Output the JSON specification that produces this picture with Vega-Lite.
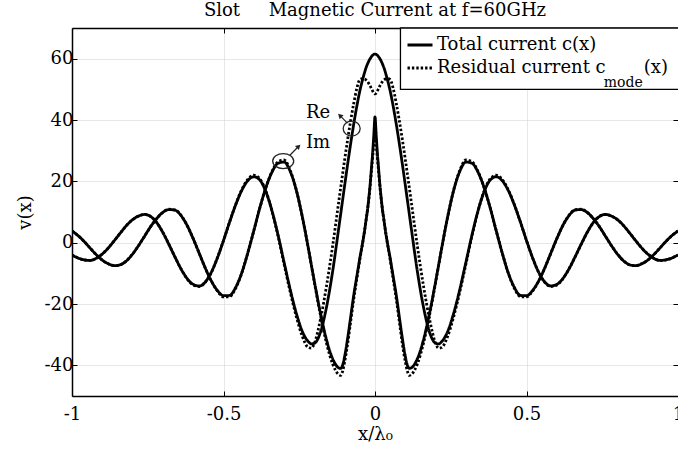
{
"$schema": "https://vega.github.io/schema/vega-lite/v6.json",
"width": 606, "height": 368,
"autosize": {"type": "none"},
"padding": {"left": 72, "top": 28, "right": 0, "bottom": 61},
"background": "white",
"data": {"values": [{}]},
"title": {"text": "Slot\u00a0\u00a0\u00a0\u00a0\u00a0Magnetic Current at f=60GHz", "font": "DejaVu Serif", "fontSize": 18, "fontWeight": "normal", "color": "black", "offset": 5, "anchor": "middle"},
"config": {"view": {"stroke": null}, "font": "DejaVu Serif"},
"resolve": {"axis": {"x": "independent", "y": "independent"}},
"layer": [
{
"data": {"values": [
{"x":-1,"Re":-4,"Im":3.8,"ReR":-4,"ImR":3.8},
{"x":-0.98,"Re":-5,"Im":2.3,"ReR":-5,"ImR":2.3},
{"x":-0.96,"Re":-5.6,"Im":0.4,"ReR":-5.6,"ImR":0.4},
{"x":-0.94,"Re":-5.8,"Im":-1.8,"ReR":-5.8,"ImR":-1.8},
{"x":-0.92,"Re":-5.1,"Im":-3.9,"ReR":-5.1,"ImR":-3.9},
{"x":-0.9,"Re":-3.7,"Im":-5.7,"ReR":-3.7,"ImR":-5.7},
{"x":-0.88,"Re":-1.7,"Im":-6.9,"ReR":-1.7,"ImR":-6.9},
{"x":-0.86,"Re":0.7,"Im":-7.5,"ReR":0.7,"ImR":-7.5},
{"x":-0.84,"Re":3.2,"Im":-7.2,"ReR":3.2,"ImR":-7.2},
{"x":-0.82,"Re":5.6,"Im":-5.9,"ReR":5.6,"ImR":-5.9},
{"x":-0.8,"Re":7.5,"Im":-3.7,"ReR":7.5,"ImR":-3.7},
{"x":-0.78,"Re":8.7,"Im":-0.9,"ReR":8.7,"ImR":-0.9},
{"x":-0.76,"Re":9.2,"Im":2.2,"ReR":9.2,"ImR":2.2},
{"x":-0.74,"Re":8.5,"Im":5.3,"ReR":8.5,"ImR":5.3},
{"x":-0.72,"Re":6.5,"Im":7.9,"ReR":6.5,"ImR":7.9},
{"x":-0.7,"Re":3.3,"Im":9.9,"ReR":3.3,"ImR":9.9},
{"x":-0.68,"Re":-0.6,"Im":10.8,"ReR":-0.6,"ImR":10.9},
{"x":-0.66,"Re":-4.7,"Im":10.6,"ReR":-4.7,"ImR":10.7},
{"x":-0.64,"Re":-8.6,"Im":8.8,"ReR":-8.6,"ImR":8.9},
{"x":-0.62,"Re":-11.7,"Im":5.6,"ReR":-11.8,"ImR":5.6},
{"x":-0.6,"Re":-13.6,"Im":1.3,"ReR":-13.8,"ImR":1.3},
{"x":-0.58,"Re":-14.1,"Im":-3.5,"ReR":-14.3,"ImR":-3.5},
{"x":-0.56,"Re":-12.8,"Im":-8.3,"ReR":-12.9,"ImR":-8.3},
{"x":-0.54,"Re":-9.6,"Im":-12.5,"ReR":-9.7,"ImR":-12.6},
{"x":-0.52,"Re":-4.9,"Im":-15.6,"ReR":-4.9,"ImR":-15.8},
{"x":-0.5,"Re":0.7,"Im":-17.3,"ReR":0.7,"ImR":-17.7},
{"x":-0.48,"Re":6.7,"Im":-17.2,"ReR":6.7,"ImR":-17.6},
{"x":-0.46,"Re":12.3,"Im":-14.6,"ReR":12.4,"ImR":-14.9},
{"x":-0.44,"Re":17,"Im":-9.9,"ReR":17.2,"ImR":-10},
{"x":-0.42,"Re":20.2,"Im":-3.4,"ReR":20.6,"ImR":-3.4},
{"x":-0.4,"Re":21.5,"Im":3.9,"ReR":22,"ImR":3.9},
{"x":-0.38,"Re":20.4,"Im":11.4,"ReR":20.8,"ImR":11.4},
{"x":-0.36,"Re":16.6,"Im":18,"ReR":16.8,"ImR":18},
{"x":-0.34,"Re":10.4,"Im":23,"ReR":10.3,"ImR":23.2},
{"x":-0.32,"Re":2.5,"Im":25.9,"ReR":2.2,"ImR":26.4},
{"x":-0.3,"Re":-6.4,"Im":26.3,"ReR":-7,"ImR":27},
{"x":-0.28,"Re":-15.2,"Im":23.3,"ReR":-16,"ImR":23.6},
{"x":-0.26,"Re":-22.9,"Im":17.2,"ReR":-24,"ImR":17.3},
{"x":-0.24,"Re":-28.9,"Im":8.5,"ReR":-30.5,"ImR":8.5},
{"x":-0.22,"Re":-32.3,"Im":-1.8,"ReR":-34.2,"ImR":-1.9},
{"x":-0.21,"Re":-33,"Im":-7.3,"ReR":-34.4,"ImR":-7.4},
{"x":-0.2,"Re":-32.8,"Im":-12.7,"ReR":-32.8,"ImR":-13},
{"x":-0.18,"Re":-29.2,"Im":-23,"ReR":-25,"ImR":-23.6},
{"x":-0.16,"Re":-21,"Im":-31.7,"ReR":-14.1,"ImR":-32.8},
{"x":-0.14,"Re":-9.5,"Im":-37.8,"ReR":-1.2,"ImR":-39.5},
{"x":-0.12,"Re":4.5,"Im":-40.8,"ReR":13.1,"ImR":-43},
{"x":-0.113,"Re":9.5,"Im":-41,"ReR":18.1,"ImR":-43.3},
{"x":-0.107,"Re":13.8,"Im":-40,"ReR":22.3,"ImR":-42},
{"x":-0.1,"Re":18.8,"Im":-37,"ReR":27.2,"ImR":-38.8},
{"x":-0.09,"Re":25.8,"Im":-31,"ReR":33.8,"ImR":-32.8},
{"x":-0.08,"Re":32.5,"Im":-24,"ReR":40,"ImR":-25.5},
{"x":-0.07,"Re":38.8,"Im":-17,"ReR":45.5,"ImR":-18.3},
{"x":-0.06,"Re":44.5,"Im":-11,"ReR":50.3,"ImR":-11.8},
{"x":-0.05,"Re":49.5,"Im":-5,"ReR":53.2,"ImR":-5.5},
{"x":-0.04,"Re":53.5,"Im":0.5,"ReR":53.5,"ImR":0.3},
{"x":-0.035,"Re":55.3,"Im":3.5,"ReR":53.4,"ImR":3.5},
{"x":-0.03,"Re":56.9,"Im":7,"ReR":53.1,"ImR":7},
{"x":-0.025,"Re":58.2,"Im":10.5,"ReR":52.6,"ImR":10.5},
{"x":-0.02,"Re":59.3,"Im":15,"ReR":51.8,"ImR":14.5},
{"x":-0.016,"Re":60,"Im":19,"ReR":51.1,"ImR":18.5},
{"x":-0.012,"Re":60.6,"Im":24,"ReR":50.3,"ImR":23},
{"x":-0.008,"Re":61.1,"Im":29,"ReR":49.5,"ImR":27.5},
{"x":-0.004,"Re":61.4,"Im":35,"ReR":48.8,"ImR":32},
{"x":0,"Re":61.5,"Im":41,"ReR":48.5,"ImR":36},
{"x":0.004,"Re":61.4,"Im":35,"ReR":48.8,"ImR":32},
{"x":0.008,"Re":61.1,"Im":29,"ReR":49.5,"ImR":27.5},
{"x":0.012,"Re":60.6,"Im":24,"ReR":50.3,"ImR":23},
{"x":0.016,"Re":60,"Im":19,"ReR":51.1,"ImR":18.5},
{"x":0.02,"Re":59.3,"Im":15,"ReR":51.8,"ImR":14.5},
{"x":0.025,"Re":58.2,"Im":10.5,"ReR":52.6,"ImR":10.5},
{"x":0.03,"Re":56.9,"Im":7,"ReR":53.1,"ImR":7},
{"x":0.035,"Re":55.3,"Im":3.5,"ReR":53.4,"ImR":3.5},
{"x":0.04,"Re":53.5,"Im":0.5,"ReR":53.5,"ImR":0.3},
{"x":0.05,"Re":49.5,"Im":-5,"ReR":53.2,"ImR":-5.5},
{"x":0.06,"Re":44.5,"Im":-11,"ReR":50.3,"ImR":-11.8},
{"x":0.07,"Re":38.8,"Im":-17,"ReR":45.5,"ImR":-18.3},
{"x":0.08,"Re":32.5,"Im":-24,"ReR":40,"ImR":-25.5},
{"x":0.09,"Re":25.8,"Im":-31,"ReR":33.8,"ImR":-32.8},
{"x":0.1,"Re":18.8,"Im":-37,"ReR":27.2,"ImR":-38.8},
{"x":0.107,"Re":13.8,"Im":-40,"ReR":22.3,"ImR":-42},
{"x":0.113,"Re":9.5,"Im":-41,"ReR":18.1,"ImR":-43.3},
{"x":0.12,"Re":4.5,"Im":-40.8,"ReR":13.1,"ImR":-43},
{"x":0.14,"Re":-9.5,"Im":-37.8,"ReR":-1.2,"ImR":-39.5},
{"x":0.16,"Re":-21,"Im":-31.7,"ReR":-14.1,"ImR":-32.8},
{"x":0.18,"Re":-29.2,"Im":-23,"ReR":-25,"ImR":-23.6},
{"x":0.2,"Re":-32.8,"Im":-12.7,"ReR":-32.8,"ImR":-13},
{"x":0.21,"Re":-33,"Im":-7.3,"ReR":-34.4,"ImR":-7.4},
{"x":0.22,"Re":-32.3,"Im":-1.8,"ReR":-34.2,"ImR":-1.9},
{"x":0.24,"Re":-28.9,"Im":8.5,"ReR":-30.5,"ImR":8.5},
{"x":0.26,"Re":-22.9,"Im":17.2,"ReR":-24,"ImR":17.3},
{"x":0.28,"Re":-15.2,"Im":23.3,"ReR":-16,"ImR":23.6},
{"x":0.3,"Re":-6.4,"Im":26.3,"ReR":-7,"ImR":27},
{"x":0.32,"Re":2.5,"Im":25.9,"ReR":2.2,"ImR":26.4},
{"x":0.34,"Re":10.4,"Im":23,"ReR":10.3,"ImR":23.2},
{"x":0.36,"Re":16.6,"Im":18,"ReR":16.8,"ImR":18},
{"x":0.38,"Re":20.4,"Im":11.4,"ReR":20.8,"ImR":11.4},
{"x":0.4,"Re":21.5,"Im":3.9,"ReR":22,"ImR":3.9},
{"x":0.42,"Re":20.2,"Im":-3.4,"ReR":20.6,"ImR":-3.4},
{"x":0.44,"Re":17,"Im":-9.9,"ReR":17.2,"ImR":-10},
{"x":0.46,"Re":12.3,"Im":-14.6,"ReR":12.4,"ImR":-14.9},
{"x":0.48,"Re":6.7,"Im":-17.2,"ReR":6.7,"ImR":-17.6},
{"x":0.5,"Re":0.7,"Im":-17.3,"ReR":0.7,"ImR":-17.7},
{"x":0.52,"Re":-4.9,"Im":-15.6,"ReR":-4.9,"ImR":-15.8},
{"x":0.54,"Re":-9.6,"Im":-12.5,"ReR":-9.7,"ImR":-12.6},
{"x":0.56,"Re":-12.8,"Im":-8.3,"ReR":-12.9,"ImR":-8.3},
{"x":0.58,"Re":-14.1,"Im":-3.5,"ReR":-14.3,"ImR":-3.5},
{"x":0.6,"Re":-13.6,"Im":1.3,"ReR":-13.8,"ImR":1.3},
{"x":0.62,"Re":-11.7,"Im":5.6,"ReR":-11.8,"ImR":5.6},
{"x":0.64,"Re":-8.6,"Im":8.8,"ReR":-8.6,"ImR":8.9},
{"x":0.66,"Re":-4.7,"Im":10.6,"ReR":-4.7,"ImR":10.7},
{"x":0.68,"Re":-0.6,"Im":10.8,"ReR":-0.6,"ImR":10.9},
{"x":0.7,"Re":3.3,"Im":9.9,"ReR":3.3,"ImR":9.9},
{"x":0.72,"Re":6.5,"Im":7.9,"ReR":6.5,"ImR":7.9},
{"x":0.74,"Re":8.5,"Im":5.3,"ReR":8.5,"ImR":5.3},
{"x":0.76,"Re":9.2,"Im":2.2,"ReR":9.2,"ImR":2.2},
{"x":0.78,"Re":8.7,"Im":-0.9,"ReR":8.7,"ImR":-0.9},
{"x":0.8,"Re":7.5,"Im":-3.7,"ReR":7.5,"ImR":-3.7},
{"x":0.82,"Re":5.6,"Im":-5.9,"ReR":5.6,"ImR":-5.9},
{"x":0.84,"Re":3.2,"Im":-7.2,"ReR":3.2,"ImR":-7.2},
{"x":0.86,"Re":0.7,"Im":-7.5,"ReR":0.7,"ImR":-7.5},
{"x":0.88,"Re":-1.7,"Im":-6.9,"ReR":-1.7,"ImR":-6.9},
{"x":0.9,"Re":-3.7,"Im":-5.7,"ReR":-3.7,"ImR":-5.7},
{"x":0.92,"Re":-5.1,"Im":-3.9,"ReR":-5.1,"ImR":-3.9},
{"x":0.94,"Re":-5.8,"Im":-1.8,"ReR":-5.8,"ImR":-1.8},
{"x":0.96,"Re":-5.6,"Im":0.4,"ReR":-5.6,"ImR":0.4},
{"x":0.98,"Re":-5,"Im":2.3,"ReR":-5,"ImR":2.3},
{"x":1,"Re":-4,"Im":3.8,"ReR":-4,"ImR":3.8}
]},
"transform": [{"fold": ["Re", "Im", "ReR", "ImR"], "as": ["k", "v"]}],
"mark": {"type": "line", "strokeWidth": 2.8, "color": "black", "interpolate": "monotone", "clip": true},
"encoding": {
"x": {"field": "x", "type": "quantitative", "scale": {"domain": [-1, 1], "nice": false},
 "axis": {"orient": "bottom", "values": [-1, -0.5, 0, 0.5, 1], "labelExpr": "toString(datum.value)", "title": "x/λ₀",
  "grid": true, "gridColor": "#cfcfcf", "gridDash": [1, 1], "gridWidth": 1,
  "domainColor": "black", "domainWidth": 1.5, "tickColor": "black", "tickSize": -5, "tickWidth": 1,
  "labelFont": "DejaVu Serif", "labelFontSize": 18, "labelColor": "black", "labelPadding": 14, "labelFlush": false,
  "titleFont": "DejaVu Serif", "titleFontSize": 18, "titleFontWeight": "normal", "titleColor": "black", "titlePadding": 2}},
"y": {"field": "v", "type": "quantitative", "scale": {"domain": [-50, 70], "nice": false},
 "axis": {"orient": "left", "values": [-40, -20, 0, 20, 40, 60], "labelExpr": "toString(datum.value)", "title": "v(x)",
  "grid": true, "gridColor": "#cfcfcf", "gridDash": [1, 1], "gridWidth": 1,
  "domainColor": "black", "domainWidth": 1.5, "tickColor": "black", "tickSize": -5, "tickWidth": 1,
  "labelFont": "DejaVu Serif", "labelFontSize": 18, "labelColor": "black", "labelPadding": 4,
  "titleFont": "DejaVu Serif", "titleFontSize": 18, "titleFontWeight": "normal", "titleColor": "black", "titlePadding": 10}},
"strokeDash": {"field": "k", "type": "nominal",
 "scale": {"domain": ["Re", "Im", "ReR", "ImR"], "range": [[1, 0], [1, 0], [2.4, 2], [2.4, 2]]},
 "legend": {"values": ["Re", "ReR"], "orient": "none", "legendX": 328, "legendY": -3, "title": null,
  "strokeColor": null, "fillColor": null, "padding": 6, "symbolType": "stroke", "symbolSize": 625,
  "symbolStrokeWidth": 2.8, "symbolStrokeColor": "black", "labelFont": "DejaVu Serif", "labelFontSize": 18,
  "labelColor": "black", "rowPadding": 0, "labelOffset": 3, "labelLimit": 0,
  "labelExpr": "datum.value == 'Re' ? 'Total current c(x)' : 'Residual current c'"}}
}
},
{
"mark": {"type": "rect", "fill": "white", "stroke": "black", "strokeWidth": 1.3, "clip": false},
"encoding": {"x": {"datum": 0.084, "axis": null}, "x2": {"datum": 1.05}, "y": {"datum": 70, "axis": null}, "y2": {"datum": 50}}
},
{
"mark": {"type": "text", "font": "DejaVu Serif", "fontSize": 14, "color": "black", "align": "left", "baseline": "middle"},
"encoding": {"x": {"datum": 0.755, "axis": null}, "y": {"datum": 52.2, "axis": null}, "text": {"value": "mode"}}
},
{
"mark": {"type": "text", "font": "DejaVu Serif", "fontSize": 18, "color": "black", "align": "left", "baseline": "middle"},
"encoding": {"x": {"datum": 0.887, "axis": null}, "y": {"datum": 57.0, "axis": null}, "text": {"value": "(x)"}}
},
{
"mark": {"type": "text", "font": "DejaVu Serif", "fontSize": 18, "color": "black", "align": "center", "baseline": "middle"},
"encoding": {"x": {"datum": -0.188, "axis": null}, "y": {"datum": 42.4, "axis": null}, "text": {"value": "Re"}}
},
{
"mark": {"type": "text", "font": "DejaVu Serif", "fontSize": 18, "color": "black", "align": "center", "baseline": "middle"},
"encoding": {"x": {"datum": -0.188, "axis": null}, "y": {"datum": 32.6, "axis": null}, "text": {"value": "Im"}}
},
{
"mark": {"type": "point", "shape": "M-1,0A1,0.88,0,1,1,1,0A1,0.88,0,1,1,-1,0Z", "filled": false, "stroke": "#222222", "strokeWidth": 1.3, "size": 289, "opacity": 1},
"encoding": {"x": {"datum": -0.077, "axis": {"orient": "top", "values": [-1, -0.5, 0, 0.5, 1], "labels": false, "title": null, "grid": false, "domainColor": "black", "domainWidth": 1.5, "tickColor": "black", "tickSize": -5}},
 "y": {"datum": 37.2, "axis": {"orient": "right", "values": [-40, -20, 0, 20, 40, 60], "labels": false, "title": null, "grid": false, "domain": false, "tickColor": "black", "tickSize": -5}}}
},
{
"mark": {"type": "point", "shape": "M-1,0A1,0.71,0,1,1,1,0A1,0.71,0,1,1,-1,0Z", "filled": false, "stroke": "#222222", "strokeWidth": 1.3, "size": 441, "opacity": 1},
"encoding": {"x": {"datum": -0.303, "axis": null}, "y": {"datum": 26.6, "axis": null}}
},
{
"mark": {"type": "rule", "stroke": "#222222", "strokeWidth": 1.2},
"encoding": {"x": {"datum": -0.091, "axis": null}, "y": {"datum": 39.0, "axis": null}, "x2": {"datum": -0.113}, "y2": {"datum": 41.2}}
},
{
"mark": {"type": "rule", "stroke": "#222222", "strokeWidth": 1.2},
"encoding": {"x": {"datum": -0.281, "axis": null}, "y": {"datum": 28.5, "axis": null}, "x2": {"datum": -0.255}, "y2": {"datum": 31.1}}
},
{
"mark": {"type": "point", "shape": "triangle-up", "filled": true, "color": "#222222", "size": 32, "angle": 315, "opacity": 1},
"encoding": {"x": {"datum": -0.116, "axis": null}, "y": {"datum": 41.5, "axis": null}}
},
{
"mark": {"type": "point", "shape": "triangle-up", "filled": true, "color": "#222222", "size": 32, "angle": 45, "opacity": 1},
"encoding": {"x": {"datum": -0.252, "axis": null}, "y": {"datum": 31.4, "axis": null}}
}
]
}
